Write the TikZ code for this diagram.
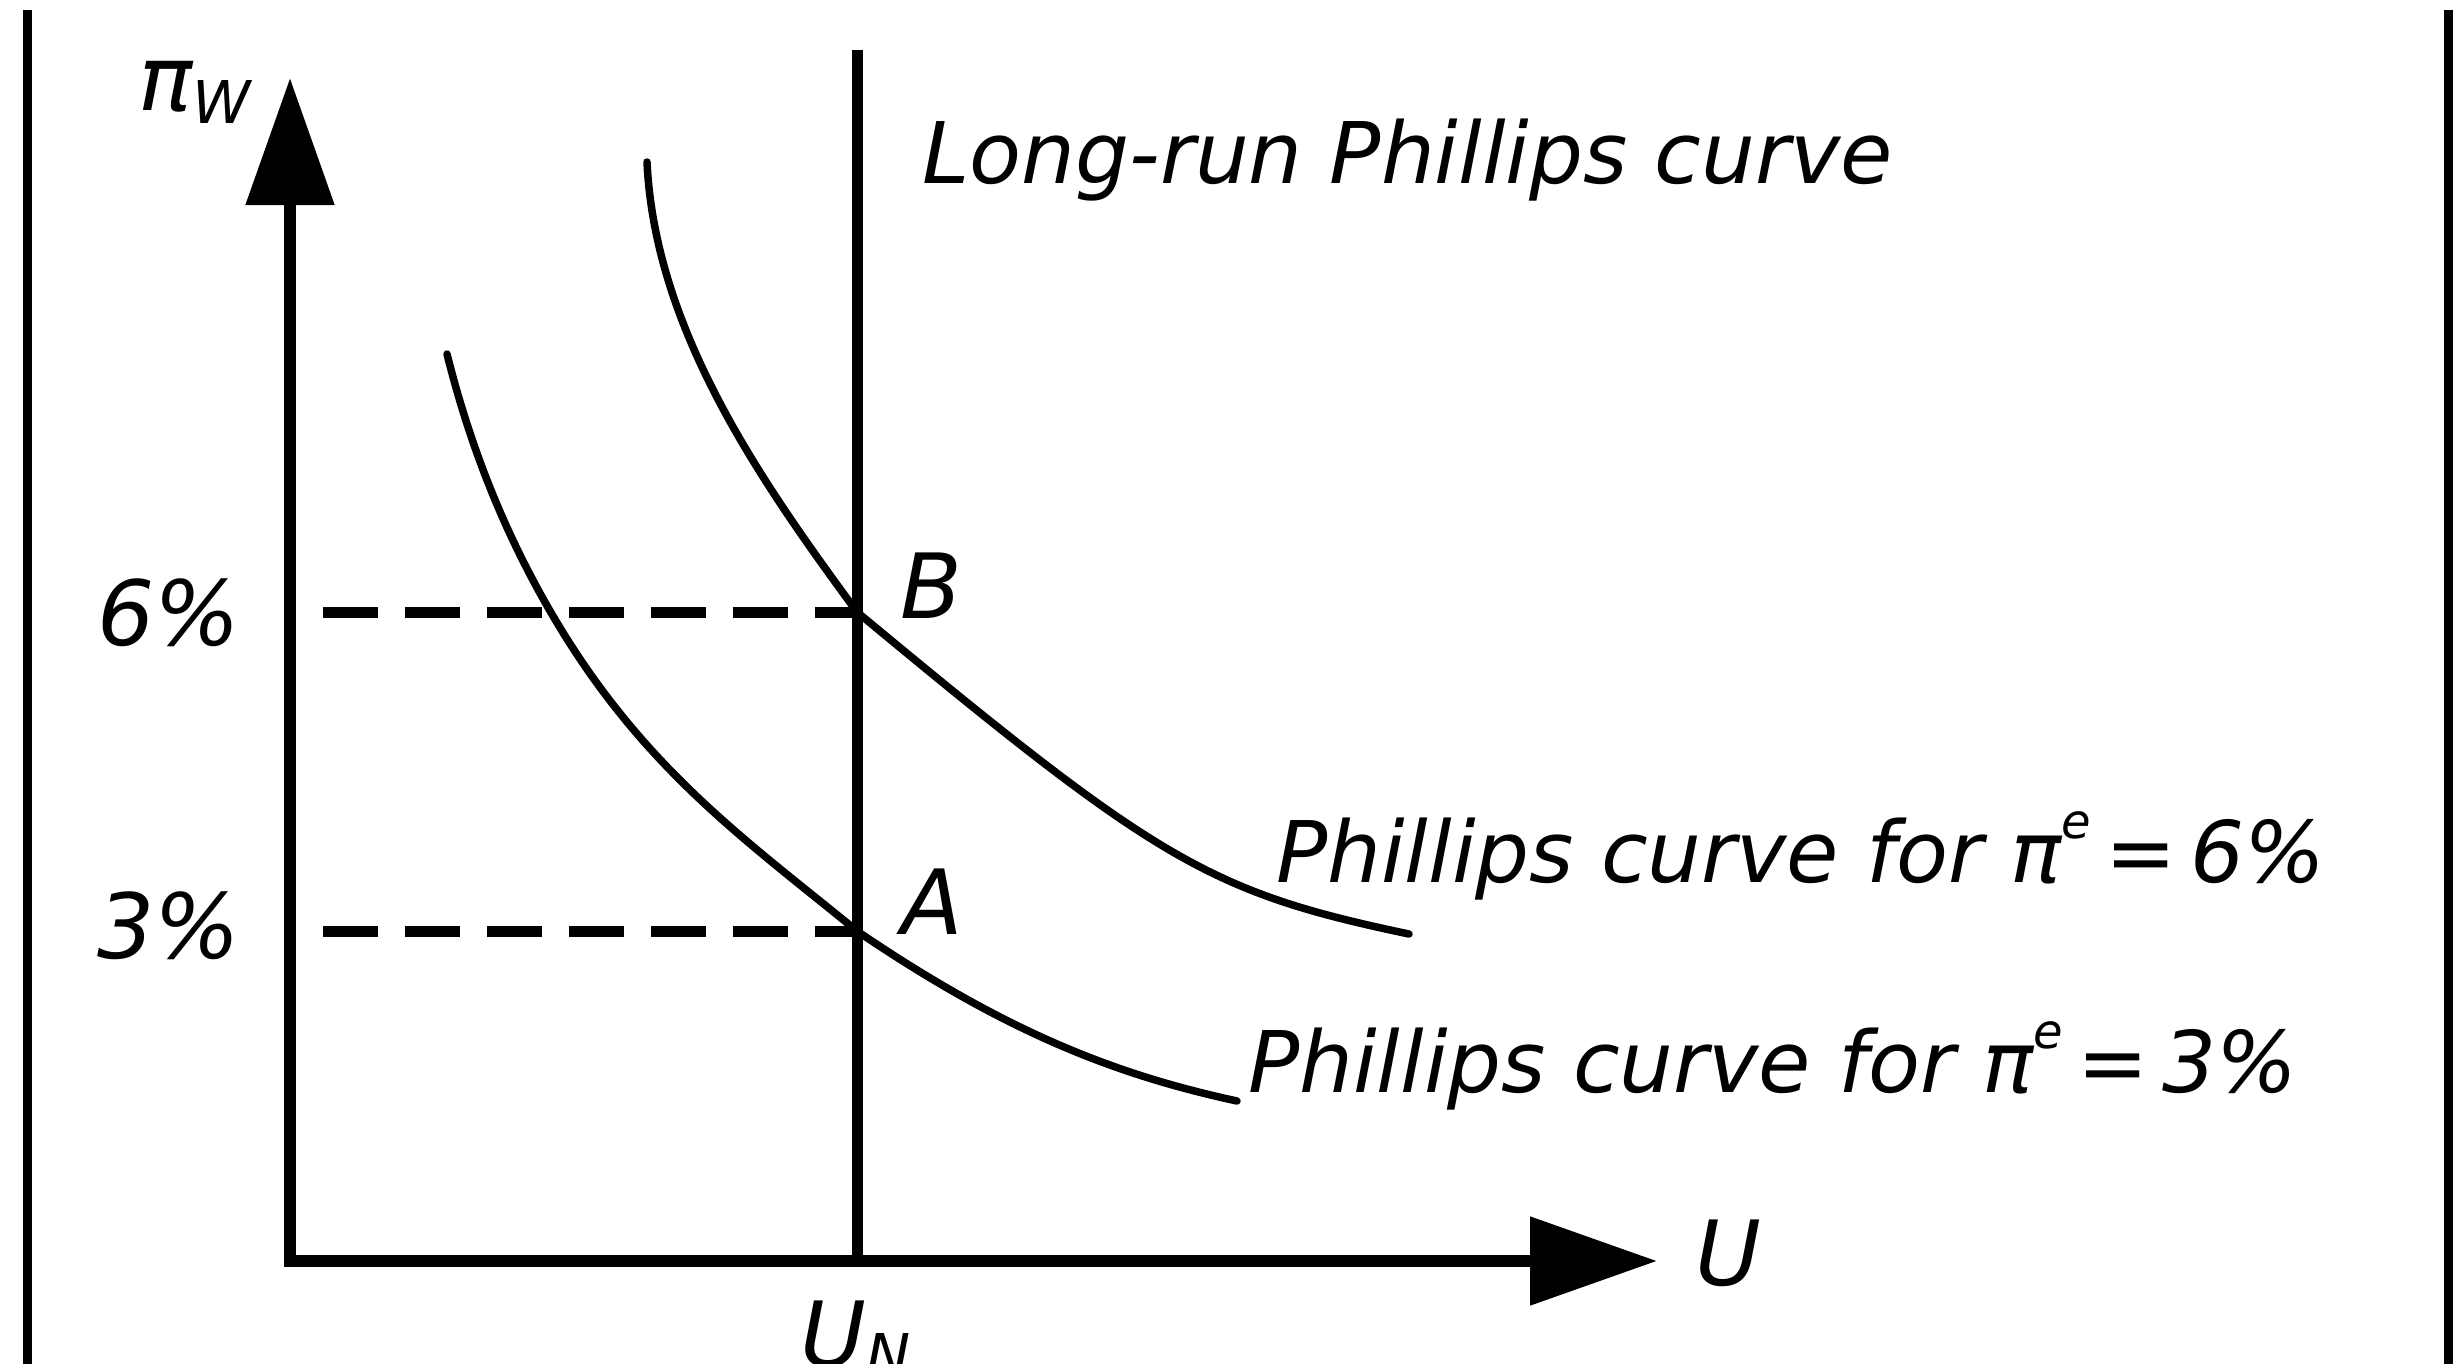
\documentclass[tikz,border=0pt]{standalone}
\usepackage{fontspec}
\setmainfont{DejaVu Sans}
\usetikzlibrary{arrows.meta}
\begin{document}
\begin{tikzpicture}[x=1pt,y=-1pt,
  lbl/.style={inner sep=0pt, anchor=base west, font=\fontsize{85}{85}\selectfont\itshape},
  num/.style={inner sep=0pt, anchor=base west, font=\fontsize{90}{90}\selectfont\itshape},
  frameline/.style={line width=9pt},
  axisline/.style={line width=12pt, line join=miter, {Triangle[length=127pt,width=86pt]}-{Triangle[length=127pt,width=86pt]}},
  lrpc/.style={line width=11pt},
  guideline/.style={line width=11pt, dash pattern=on 55pt off 27pt},
  pc/.style={line width=7.5pt, line join=round, line cap=round}]
\useasboundingbox (0,0) rectangle (2462,1363);
% frame sides
\coordinate (fl1) at (27,10); \coordinate (fl2) at (27,1370);
\coordinate (fr1) at (2448,10); \coordinate (fr2) at (2448,1370);
\draw[frameline] (fl1) -- (fl2);
\draw[frameline] (fr1) -- (fr2);
% axes
\coordinate (ytop) at (290,78);
\coordinate (orig) at (290,1261);
\coordinate (xend) at (1657,1261);
\draw[axisline] (ytop) -- (orig) -- (xend);
% long-run Phillips curve
\coordinate (lrtop) at (857,50);
\coordinate (lrbot) at (857,1261);
\draw[lrpc] (lrtop) -- (lrbot);
% equilibrium points and guides
\coordinate (Bpt) at (857,612);
\coordinate (Apt) at (857,931);
\coordinate (d6) at (323,612);
\coordinate (d3) at (323,931);
\draw[guideline] (d6) -- (Bpt);
\draw[guideline] (d3) -- (Apt);
% short-run Phillips curve for 6%
\coordinate (u6s) at (647,162);
\coordinate (u6e) at (1409,934);
\draw[pc] (u6s) .. controls (655,330) and (760,480) .. (Bpt)
              .. controls (1157,861) and (1209,892) .. (u6e);
% short-run Phillips curve for 3%
\coordinate (u3s) at (447,354);
\coordinate (u3m) at (553,616);
\coordinate (u3e) at (1237,1101);
\draw[pc] (u3s) .. controls (469.5,444) and (503,531) .. (u3m)
              .. controls (643,769) and (747,840.8) .. (Apt)
              .. controls (1007,1033) and (1117,1075) .. (u3e);
% labels
\node[num] (piw) at (138,110) {π\raisebox{-13pt}{\fontsize{59}{59}\selectfont W}};
\node[lbl] (lrlab) at (922,183) {Long-run Phillips curve};
\node[num] (six) at (97,645) {6\%};
\node[num] (three) at (97,958) {3\%};
\node[num] (blab) at (900,618) {B};
\node[num] (alab) at (901,934) {A};
\node[lbl] (pc6) at (1276,882) {Phillips curve for π\raisebox{44pt}{\fontsize{48}{48}\selectfont e}\,=\,6\%};
\node[lbl] (pc3) at (1248,1092) {Phillips curve for π\raisebox{44pt}{\fontsize{48}{48}\selectfont e}\,=\,3\%};
\node[num] (ulab) at (1695,1285) {U};
\node[num] (un) at (800,1366) {U\raisebox{-10pt}{\fontsize{59}{59}\selectfont N}};
\end{tikzpicture}
\end{document}
